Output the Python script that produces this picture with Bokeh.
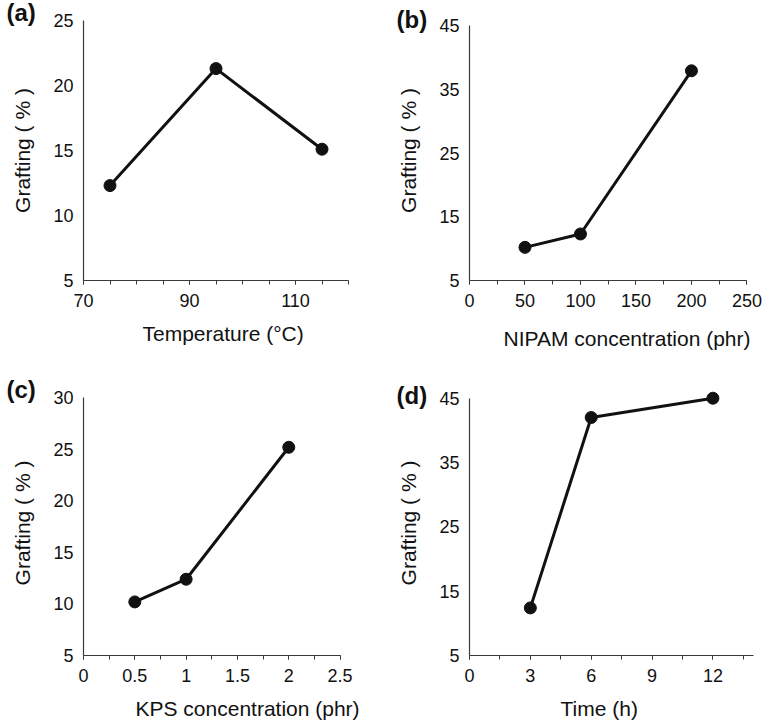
from bokeh.plotting import figure
from bokeh.models import FixedTicker, Range1d, Title, LinearAxis
from bokeh.layouts import column, row
from bokeh.embed import file_html
from bokeh.resources import INLINE

FONT = "Liberation Sans"
INK = "#111111"
AXIS = "#3a3a3a"

# ---------------- data ----------------
temp_x = [75, 95, 115]
temp_y = [12.3, 21.3, 15.1]
temp_xticks = [70, 90, 110]
temp_xlabels = ["70", "90", "110"]
temp_xminor = [70, 75, 80, 85, 90, 95, 100, 105, 110, 115, 120]
temp_yticks = [5, 10, 15, 20, 25]

nipam_x = [50, 100, 200]
nipam_y = [10.2, 12.3, 37.9]
nipam_xticks = [0, 50, 100, 150, 200, 250]
nipam_xlabels = ["0", "50", "100", "150", "200", "250"]
nipam_xminor = [0, 25, 50, 75, 100, 125, 150, 175, 200, 225, 250]
nipam_yticks = [5, 15, 25, 35, 45]

kps_x = [0.5, 1, 2]
kps_y = [10.2, 12.4, 25.2]
kps_xticks = [0, 0.5, 1, 1.5, 2, 2.5]
kps_xlabels = ["0", "0.5", "1", "1.5", "2", "2.5"]
kps_xminor = [0, 0.25, 0.5, 0.75, 1, 1.25, 1.5, 1.75, 2, 2.25, 2.5]
kps_yticks = [5, 10, 15, 20, 25, 30]

time_x = [3, 6, 12]
time_y = [12.4, 42.0, 45.0]
time_xticks = [0, 3, 6, 9, 12]
time_xlabels = ["0", "3", "6", "9", "12"]
time_xminor = [0, 1.5, 3, 4.5, 6, 7.5, 9, 10.5, 12, 13.5]
time_yticks = [5, 15, 25, 35, 45]

y_title = "Grafting ( % )"


def panel(xs, ys, xrange_, xbounds, yrange_, ybounds, xticks, xlabels, xminor, yticks,
          xtitle, tag, width, height, left, right, top, bottom,
          tag_off, tag_standoff, xtitle_off, spacer):
    p = figure(width=width, height=height, output_backend="svg", toolbar_location=None,
               x_range=Range1d(*xrange_), y_range=Range1d(*yrange_),
               min_border_left=left, min_border_right=right,
               min_border_top=top, min_border_bottom=bottom)
    p.outline_line_color = None
    p.xgrid.grid_line_color = None
    p.ygrid.grid_line_color = None
    p.background_fill_color = "white"
    p.border_fill_color = "white"

    xa = p.xaxis[0]
    xa.ticker = FixedTicker(ticks=xticks, minor_ticks=xminor)
    xa.bounds = xbounds
    xa.major_label_overrides = {t: s for t, s in zip(xticks, xlabels)}
    xa.axis_line_color = AXIS
    xa.axis_line_width = 1.2
    xa.major_tick_line_color = AXIS
    xa.minor_tick_line_color = AXIS
    xa.major_tick_out = 4
    xa.major_tick_in = 0
    xa.minor_tick_out = 4
    xa.minor_tick_in = 0
    xa.major_label_standoff = 9
    xa.major_label_text_font = FONT
    xa.major_label_text_font_size = "18px"
    xa.major_label_text_color = INK

    ya = p.yaxis[0]
    ya.ticker = FixedTicker(ticks=yticks)
    ya.bounds = ybounds
    ya.axis_line_color = AXIS
    ya.axis_line_width = 1.2
    ya.major_tick_line_color = None
    ya.minor_tick_line_color = None
    ya.major_tick_out = 0
    ya.major_tick_in = 0
    ya.major_label_standoff = 10
    ya.major_label_text_font = FONT
    ya.major_label_text_font_size = "18px"
    ya.major_label_text_color = INK
    ya.axis_label = y_title
    ya.axis_label_standoff = 16
    ya.axis_label_text_font = FONT
    ya.axis_label_text_font_size = "21px"
    ya.axis_label_text_font_style = "normal"
    ya.axis_label_text_color = INK

    p.line(xs, ys, line_color=INK, line_width=3)
    p.scatter(xs, ys, size=12, fill_color=INK, line_color=INK)

    # panel tag above the frame
    p.add_layout(Title(text=tag, align="left", offset=tag_off, standoff=tag_standoff,
                       vertical_align="bottom",
                       text_font=FONT, text_font_size="24px", text_font_style="bold",
                       text_color=INK), "above")
    # invisible spacer axis (white tick, empty label) between x axis and its title
    x0 = xbounds[0]
    sp = LinearAxis(ticker=FixedTicker(ticks=[x0]), axis_line_color=None,
                    major_tick_line_color="white", minor_tick_line_color=None,
                    major_tick_out=spacer, major_tick_in=0, minor_tick_out=0, minor_tick_in=0,
                    major_label_standoff=0, major_label_overrides={x0: ""},
                    major_label_text_font_size="1px")
    p.add_layout(sp, "below")
    p.add_layout(Title(text=xtitle, align="left", offset=xtitle_off, standoff=0,
                       text_font=FONT, text_font_size="21px", text_font_style="normal",
                       text_color=INK), "below")
    return p


pa = panel(temp_x, temp_y, (70, 120), (70, 120), (5, 25), (5, 25),
           temp_xticks, temp_xlabels, temp_xminor, temp_yticks,
           "Temperature (°C)", "(a)",
           380, 354, 83, 32, 20, 74, -77, -11, 59, 10)
pb = panel(nipam_x, nipam_y, (0, 256.8), (0, 250), (5, 45.79), (5, 45),
           nipam_xticks, nipam_xlabels, nipam_xminor, nipam_yticks,
           "NIPAM concentration (phr)", "(b)",
           385, 354, 89, 11, 20, 74, -73, -25, 34, 15)
pc = panel(kps_x, kps_y, (0, 2.582), (0, 2.5), (5, 30.71), (5, 30),
           kps_xticks, kps_xlabels, kps_xminor, kps_yticks,
           "KPS concentration (phr)", "(c)",
           380, 370, 83, 32, 36, 69, -77, -25, 52, 10)
pd = panel(time_x, time_y, (0, 14.05), (0, 14), (5, 46.2), (5, 45),
           time_xticks, time_xlabels, time_xminor, time_yticks,
           "Time (h)", "(d)",
           385, 370, 89, 11, 36, 69, -73, -36, 91, 10)

layout = column(row(pa, pb), row(pc, pd))
open("out.html", "w").write(file_html(layout, INLINE))
